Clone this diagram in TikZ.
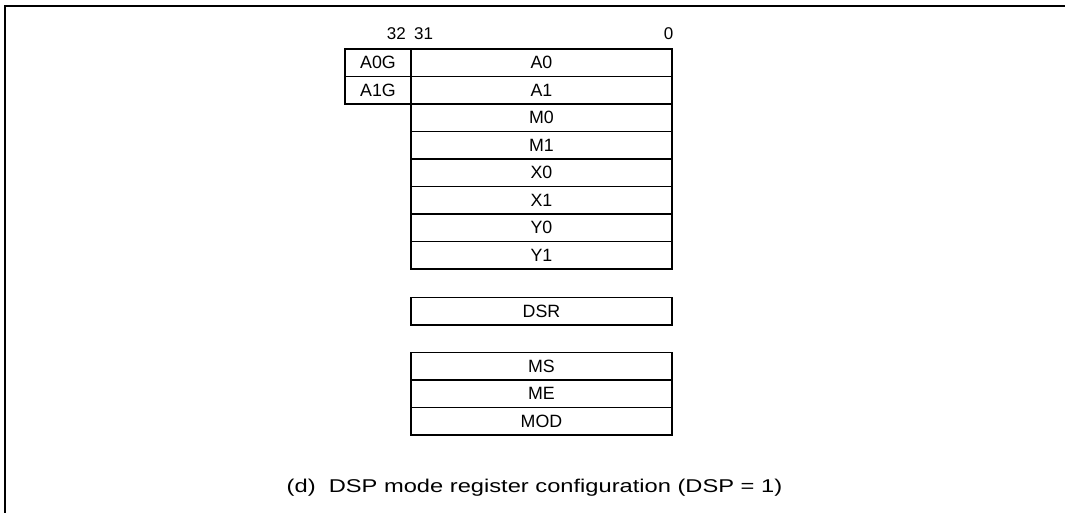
\documentclass[tikz,border=0pt]{standalone}
\usepackage{fontspec}
\setmainfont{Liberation Sans}
\newfontfamily\capfont[FakeStretch=1.28]{Liberation Sans}
\begin{document}
\begin{tikzpicture}[x=1pt,y=-1pt,
  reg/.style={draw,line width=1.3pt,minimum width=261pt,minimum height=27.5pt,inner sep=0pt,font=\fontsize{17.8}{17.8}\selectfont},
  guard/.style={draw,line width=1.3pt,minimum width=66pt,minimum height=27.5pt,inner sep=0pt,font=\fontsize{17.8}{17.8}\selectfont},
  bitlbl/.style={inner sep=0pt,font=\fontsize{17}{17}\selectfont}]
\useasboundingbox (0,0) rectangle (1065,513);
\draw[line width=2pt] (4.5,513) -- (4.5,6.5) -- (1065,6.5);
\node[bitlbl,anchor=base east] (b32) at (406,40) {32};
\node[bitlbl,anchor=base west] (b31) at (414,40) {31};
\node[bitlbl,anchor=base east] (b0) at (673.5,40) {0};
\node[guard] (a0g) at (378,62.75) {A0G};
\node[guard] (a1g) at (378,90.25) {A1G};
\node[reg] (a0) at (541.5,62.75) {A0};
\node[reg] (a1) at (541.5,90.25) {A1};
\node[reg] (m0) at (541.5,117.75) {M0};
\node[reg] (m1) at (541.5,145.25) {M1};
\node[reg] (x0) at (541.5,172.75) {X0};
\node[reg] (x1) at (541.5,200.25) {X1};
\node[reg] (y0) at (541.5,227.75) {Y0};
\node[reg] (y1) at (541.5,255.25) {Y1};
\node[reg] (dsr) at (541.5,311.2) {DSR};
\node[reg] (ms) at (541.5,366.25) {MS};
\node[reg] (me) at (541.5,393.75) {ME};
\node[reg] (mod) at (541.5,421.25) {MOD};
\node[inner sep=0pt,font=\capfont\fontsize{18.5}{18.5}\selectfont,anchor=base] (cap) at (534.5,492) {(d)\ \ DSP mode register configuration (DSP = 1)};
\end{tikzpicture}
\end{document}
